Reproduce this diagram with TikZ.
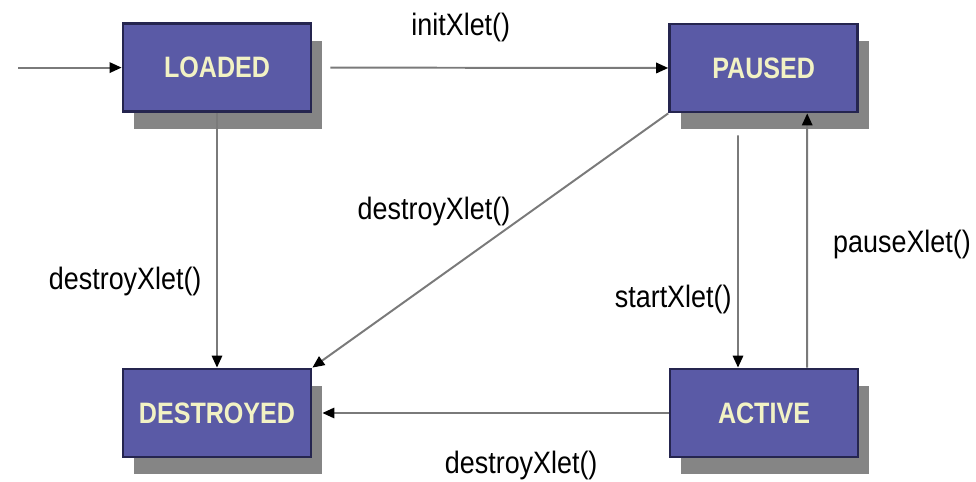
\documentclass[tikz,border=0pt]{standalone}
\usepackage{fontspec}
\setmainfont{Liberation Sans}
\newfontfamily\statefont[FakeStretch=0.85]{Liberation Sans}
\newfontfamily\msgfont[FakeStretch=0.87]{Liberation Sans}
\usepackage{tikz}
\usetikzlibrary{arrows.meta, shadows, positioning, calc}
\definecolor{boxfill}{HTML}{5A5AA6}
\definecolor{boxline}{HTML}{25254F}
\definecolor{shadowgray}{HTML}{858585}
\definecolor{linegray}{HTML}{7A7A7A}
\definecolor{textyellow}{HTML}{F2F2C4}
\tikzset{
  state/.style={draw=boxline, line width=2pt, fill=boxfill,
    minimum width=4.7cm, minimum height=2.2cm, inner sep=0pt,
    font=\statefont\fontsize{21}{23}\selectfont\bfseries, text=textyellow,
    drop shadow={shadow xshift=0.28cm, shadow yshift=-0.43cm, fill=shadowgray, opacity=1}},
  flow/.style={draw=linegray, line width=1.4pt, -{Triangle[length=0.3cm, width=0.26cm, color=black]}},
  msg/.style={font=\msgfont\fontsize{22}{24}\selectfont, inner sep=1pt}
}

\begin{document}
\begin{tikzpicture}
\useasboundingbox (0,0) rectangle (24.4,-12.05);
% Vẽ các trạng thái
\node[state] (LOADED) at (5.425,-1.69) {LOADED};
\node[state] (PAUSED) at (19.09,-1.7) {PAUSED};
\node[state] (DESTROYED) at (5.425,-10.325) {DESTROYED};
\node[state] (ACTIVE) at (19.1,-10.325) {ACTIVE};

% Vẽ các chuyển trạng thái
\coordinate (start) at (0.45,-1.69);
\draw[flow] (start) -- (LOADED.west);
\draw[flow, shorten <=0.45cm] (LOADED.east) -- (PAUSED.west);
\draw[flow] (LOADED.south) -- (DESTROYED.north);
\draw[flow] (PAUSED.south west) -- (DESTROYED.north east);
\draw[flow, shorten <=0.55cm] ([xshift=-0.64cm]PAUSED.south) -- ([xshift=-0.65cm]ACTIVE.north);
\draw[flow] ([xshift=1.08cm]ACTIVE.north) -- ([xshift=1.09cm]PAUSED.south);
\draw[flow, shorten >=0.25cm] (ACTIVE.west) -- (DESTROYED.east);

% Vẽ nhãn
\node[msg] (init) at (11.52,-0.68) {initXlet()};
\node[msg] (dmid) at (10.85,-5.28) {destroyXlet()};
\node[msg] (dleft) at (3.13,-7.05) {destroyXlet()};
\node[msg] (startl) at (16.83,-7.48) {startXlet()};
\node[msg] (pausel) at (22.55,-6.12) {pauseXlet()};
\node[msg] (dbot) at (13.03,-11.65) {destroyXlet()};
\end{tikzpicture}
\end{document}
